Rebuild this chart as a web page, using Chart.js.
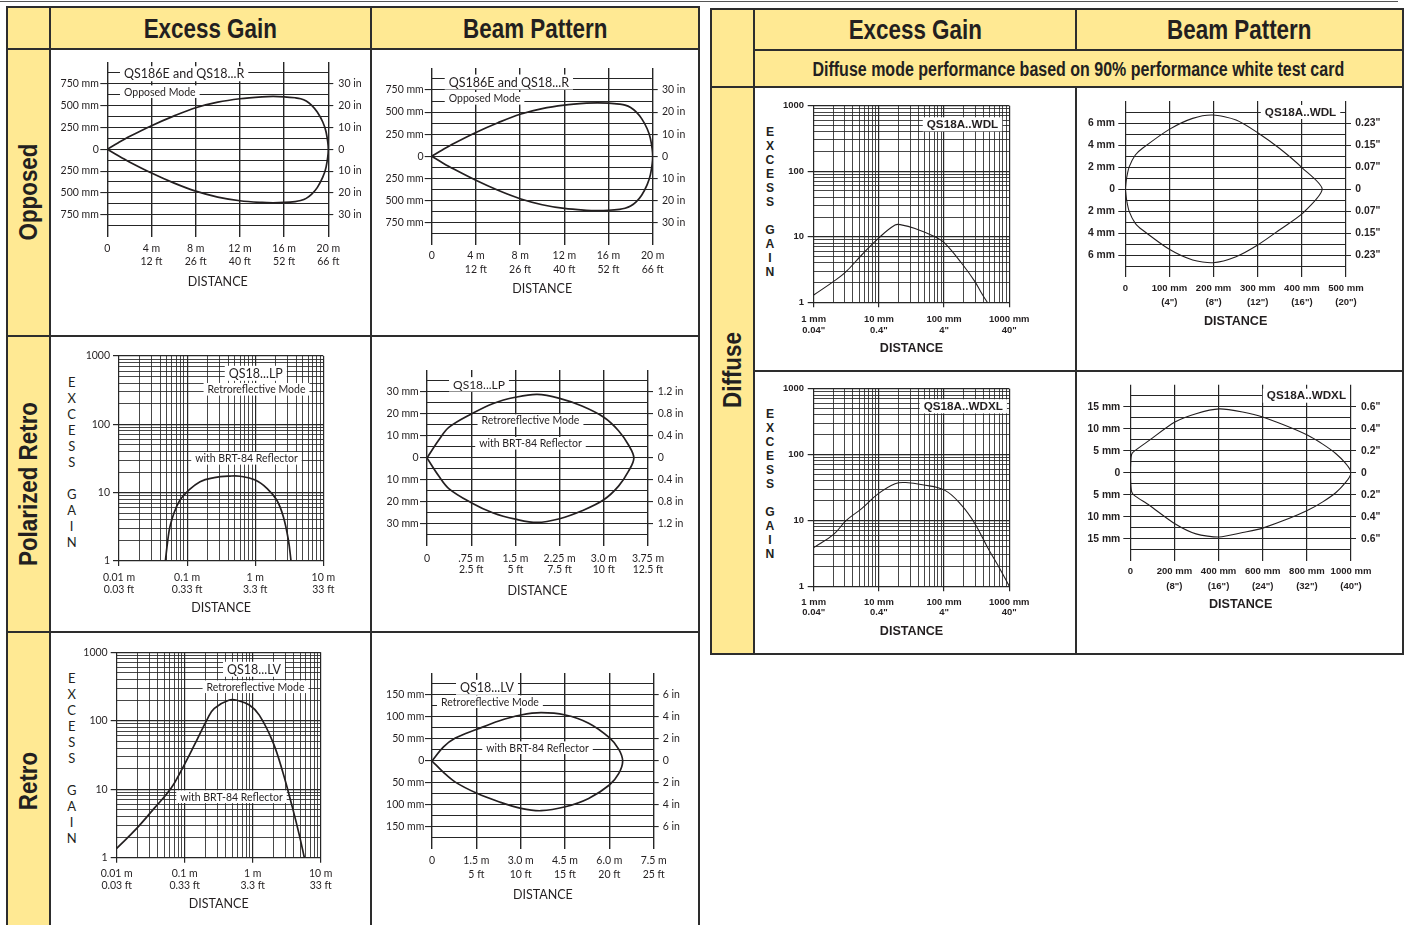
<!DOCTYPE html>
<html>
<head>
<meta charset="utf-8">
<title>QS18 excess gain and beam pattern</title>
<script src="https://cdn.jsdelivr.net/npm/chart.js@4.4.1/dist/chart.umd.min.js"></script>
<style>
  html, body { margin: 0; padding: 0; background: #fff; }
  body { position: relative; width: 1406px; height: 925px; overflow: hidden; color: #231f20; font-family: Lato, sans-serif; }
  .fill { position: absolute; background: #ffe993; }
  .ln { position: absolute; background: #2d2d2d; }
  .hd { position: absolute; display: flex; align-items: center; justify-content: center;
        font: bold 28px "Liberation Sans", Arial, sans-serif; white-space: nowrap; }
  .hd span { display: inline-block; transform: scaleX(0.8); }
  .hd.sub { font-size: 20px; }
  .side { position: absolute; font: bold 26px "Liberation Sans", Arial, sans-serif; white-space: nowrap;
          transform: translate(-50%, -50%) rotate(-90deg) scaleX(0.86); }
  .stack { position: absolute; width: 20px; margin-left: -10px; text-align: center; }
  canvas { position: absolute; }
</style>
</head>
<body>

<div class="hd" style="left:50px;top:8px;width:321px;height:41px"><span>Excess Gain</span></div>
<div class="hd" style="left:372px;top:8px;width:326px;height:41px"><span>Beam Pattern</span></div>
<div class="hd" style="left:754px;top:9px;width:322px;height:41px"><span>Excess Gain</span></div>
<div class="hd" style="left:1077px;top:9px;width:325px;height:41px"><span>Beam Pattern</span></div>
<div class="hd sub" style="left:754px;top:51px;width:648px;height:36px"><span>Diffuse mode performance based on 90% performance white test card</span></div>

<div class="side" style="left:28px;top:192px">Opposed</div>
<div class="side" style="left:28px;top:484px">Polarized Retro</div>
<div class="side" style="left:28px;top:781px">Retro</div>
<div class="side" style="left:732px;top:370px">Diffuse</div>

<script>
// ---------- data ----------

// Opposed mode, QS186E and QS18...R (distance m, width mm)
const oppDist  = [0, 1, 2, 4, 6, 8, 10, 12, 14, 15, 16, 17, 17.5, 18, 18.5, 19, 19.5, 19.8, 20];
const oppUpper = [0, 75, 145, 270, 380, 476, 540, 579, 601, 605, 601, 590, 579, 552, 503, 426, 312, 198, 0];
const oppLower = [0, -75, -145, -272, -385, -480, -548, -590, -610, -613, -610, -600, -588, -563, -515, -440, -320, -205, 0];
const oppXTicks  = [0, 4, 8, 12, 16, 20];
const oppXLabels = ['0', ['4 m', '12 ft'], ['8 m', '26 ft'], ['12 m', '40 ft'], ['16 m', '52 ft'], ['20 m', '66 ft']];
const oppYTicks  = [750, 500, 250, 0, -250, -500, -750];
const oppYLeft   = ['750 mm', '500 mm', '250 mm', '0', '250 mm', '500 mm', '750 mm'];
const oppYRight  = ['30 in', '20 in', '10 in', '0', '10 in', '20 in', '30 in'];

// Polarized retro QS18...LP excess gain (m)
const lpGainDist = [0.048, 0.052, 0.056, 0.065, 0.0787, 0.1, 0.155, 0.25, 0.427, 0.6, 1.0, 1.5, 2.07, 2.59, 3.07, 3.36];
const lpGain     = [1, 2, 3.18, 5.2, 7.8, 10.3, 14.5, 16.6, 17.5, 17.4, 15.3, 11.5, 7.8, 4.45, 2.03, 1];

// Polarized retro QS18...LP beam pattern (m, mm)
const lpDist  = [0, 0.2, 0.375, 0.75, 1.125, 1.5, 1.87, 2.25, 2.63, 3.0, 3.25, 3.42, 3.51];
const lpUpper = [0, 8.2, 14, 20, 24.8, 27.6, 28.9, 27.1, 23.6, 18.5, 12.4, 5.9, 0];
const lpLower = [0, -8.2, -14, -20.3, -25, -27.8, -29.3, -27.6, -24, -19, -12.8, -6, 0];
const lpXTicks  = [0, 0.75, 1.5, 2.25, 3.0, 3.75];
const lpXLabels = ['0', ['.75 m', '2.5 ft'], ['1.5 m', '5 ft'], ['2.25 m', '7.5 ft'], ['3.0 m', '10 ft'], ['3.75 m', '12.5 ft']];
const lpYTicks  = [30, 20, 10, 0, -10, -20, -30];
const lpYLeft   = ['30 mm', '20 mm', '10 mm', '0', '10 mm', '20 mm', '30 mm'];
const lpYRight  = ['1.2 in', '0.8 in', '0.4 in', '0', '0.4 in', '0.8 in', '1.2 in'];

// Retro QS18...LV excess gain (m)
const lvGainDist = [0.01, 0.0197, 0.0358, 0.063, 0.0925, 0.139, 0.218, 0.273, 0.454, 0.6, 0.894, 1.25, 1.97, 2.76, 3.87, 4.85, 5.75];
const lvGain     = [1.37, 2.68, 5.3, 10.3, 20.2, 44.3, 108.7, 152, 201, 198, 170, 121, 49.6, 18, 5.25, 2.14, 1];

// Retro QS18...LV beam pattern (m, mm)
const lvDist  = [0, 0.39, 0.79, 1.52, 2.26, 3.01, 3.69, 4.51, 5.3, 6.0, 6.32, 6.45];
const lvUpper = [0, 32, 52, 72, 91, 104.6, 110, 104.6, 86, 53, 26.5, 0];
const lvLower = [0, -26, -48, -73.5, -92.5, -107.6, -113, -104, -85, -54.6, -28, 0];
const lvXTicks  = [0, 1.5, 3, 4.5, 6, 7.5];
const lvXLabels = ['0', ['1.5 m', '5 ft'], ['3.0 m', '10 ft'], ['4.5 m', '15 ft'], ['6.0 m', '20 ft'], ['7.5 m', '25 ft']];
const lvYTicks  = [150, 100, 50, 0, -50, -100, -150];
const lvYLeft   = ['150 mm', '100 mm', '50 mm', '0', '50 mm', '100 mm', '150 mm'];
const lvYRight  = ['6 in', '4 in', '2 in', '0', '2 in', '4 in', '6 in'];

// shared log axes (retro charts in m, diffuse in mm)
const retroGainX       = [0.01, 0.1, 1, 10];
const retroGainXLabels = [['0.01 m', '0.03 ft'], ['0.1 m', '0.33 ft'], ['1 m', '3.3 ft'], ['10 m', '33 ft']];
const diffGainX        = [1, 10, 100, 1000];
const diffGainXLabels  = [['1 mm', '0.04"'], ['10 mm', '0.4"'], ['100 mm', '4"'], ['1000 mm', '40"']];
const gainYTicks  = [1, 10, 100, 1000];
const gainYLabels = ['1', '10', '100', '1000'];

// Diffuse QS18A..WDL (mm)
const wdlGainDist = [1, 2, 3.02, 5.44, 9.8, 17.7, 22, 35.8, 72.4, 103, 186, 297, 376, 459];
const wdlGain     = [1.29, 2.07, 2.83, 5.27, 9.46, 15.1, 15.2, 13.4, 10, 7.94, 3.94, 2.07, 1.37, 1];
const wdlDist  = [0, 3, 9, 22.7, 39, 99.7, 152.6, 198, 251, 300, 349, 402, 446];
const wdlUpper = [0, 1, 2.03, 3.09, 3.7, 5.42, 6.42, 6.73, 6.27, 5.12, 3.7, 1.88, 0];
const wdlLower = [0, -1, -2.06, -3.12, -3.73, -5.48, -6.45, -6.7, -6.15, -5.09, -3.73, -2.2, 0];
const wdlXTicks  = [0, 100, 200, 300, 400, 500];
const wdlXLabels = ['0', ['100 mm', '(4")'], ['200 mm', '(8")'], ['300 mm', '(12")'], ['400 mm', '(16")'], ['500 mm', '(20")']];
const wdlYTicks  = [6, 4, 2, 0, -2, -4, -6];
const wdlYLeft   = ['6 mm', '4 mm', '2 mm', '0', '2 mm', '4 mm', '6 mm'];
const wdlYRight  = ['0.23"', '0.15"', '0.07"', '0', '0.07"', '0.15"', '0.23"'];

// Diffuse QS18A..WDXL (mm)
const wdxlGainDist = [1, 2, 3.16, 5.44, 9.8, 17.7, 25.7, 46.5, 103, 186, 297, 476, 716, 1000];
const wdxlGain     = [3.86, 6.08, 10, 15.1, 25.5, 36.1, 37.6, 34.9, 28.6, 16.9, 8.93, 3.73, 1.85, 1];
const wdxlDist  = [0, 2, 6, 18, 86, 202, 297.6, 403, 509, 600, 804, 932, 1000];
const wdxlUpper = [0, 2.5, 4.2, 4.9, 7.35, 11.5, 13.4, 14.5, 13.8, 12.65, 8.5, 4.3, 0];
const wdxlLower = [0, -2.5, -4.3, -5.15, -7.4, -11.6, -13.9, -14.6, -13.6, -12.6, -8.56, -4.5, 0];
const wdxlXTicks  = [0, 200, 400, 600, 800, 1000];
const wdxlXLabels = ['0', ['200 mm', '(8")'], ['400 mm', '(16")'], ['600 mm', '(24")'], ['800 mm', '(32")'], ['1000 mm', '(40")']];
const wdxlYTicks  = [15, 10, 5, 0, -5, -10, -15];
const wdxlYLeft   = ['15 mm', '10 mm', '5 mm', '0', '5 mm', '10 mm', '15 mm'];
const wdxlYRight  = ['0.6"', '0.4"', '0.2"', '0', '0.2"', '0.4"', '0.6"'];

// ---------- helpers ----------
const INK = '#231f20';
const GRID = '#262626';
const CLEAR = 'rgba(0,0,0,0)';

function hasFont(name) {
  const c = document.createElement('canvas').getContext('2d');
  const s = 'mmmwwwiii0123456789QS18A';
  c.font = '40px monospace';
  const a = c.measureText(s).width;
  c.font = '40px "' + name + '", monospace';
  return Math.abs(c.measureText(s).width - a) > 0.5;
}
const NF = hasFont('Liberation Sans Narrow')
  ? { family: '"Liberation Sans Narrow", sans-serif', k: 1 }
  : { family: '"Liberation Sans", Arial, sans-serif', k: 0.9 };
const nf = size => ({ family: NF.family, size: +(size * NF.k).toFixed(2), weight: 'bold' });
const lato = size => ({ family: 'Lato, sans-serif', size: size });

function line(x, y, w, h, col) {
  const d = document.createElement('div');
  d.className = 'ln';
  d.style.cssText = `left:${x}px;top:${y}px;width:${w}px;height:${h}px` + (col ? `;background:${col}` : '');
  document.body.appendChild(d);
}
const H = (x1, x2, y, w = 2, col) => line(x1, y - w / 2, x2 - x1, w, col);
const V = (x, y1, y2, w = 2) => line(x - w / 2, y1, w, y2 - y1);
function fill(x, y, w, h) {
  const d = document.createElement('div');
  d.className = 'fill';
  d.style.cssText = `left:${x}px;top:${y}px;width:${w}px;height:${h}px`;
  document.body.insertBefore(d, document.body.firstChild);
}
function stack(x, y, step, font) {
  const d = document.createElement('div');
  d.className = 'stack';
  d.style.cssText = `left:${x}px;top:${y - step / 2}px;line-height:${step}px;font:${font}`;
  d.innerHTML = 'EXCESS GAIN'.split('').map(ch => ch === ' ' ? '&nbsp;' : ch).join('<br>');
  document.body.appendChild(d);
}

function gridRange(lim, step) {
  const a = [];
  for (let v = -lim; v <= lim + 1e-9; v += step) a.push(+v.toFixed(4));
  return a;
}
function logGrid(lo, hi) {
  const a = [];
  for (let d = lo; d < hi * 0.999; d *= 10)
    for (let k = 1; k <= 9; k++) a.push(+(k * d).toPrecision(3));
  a.push(hi);
  return a;
}
const near = (a, b) => Math.abs(a - b) <= 1e-6 * Math.max(1, Math.abs(b));
const lookup = (vals, labels, v) => { const i = vals.findIndex(t => near(t, v)); return i < 0 ? '' : labels[i]; };
const isDecade = v => Math.abs(Math.log10(v) - Math.round(Math.log10(v))) < 1e-6;

function addCanvas(id, cell) {
  const cv = document.createElement('canvas');
  cv.id = id;
  cv.width = cell.r - cell.l;
  cv.height = cell.b - cell.t;
  cv.style.left = cell.l + 'px';
  cv.style.top = cell.t + 'px';
  cv.style.width = cv.width + 'px';
  cv.style.height = cv.height + 'px';
  document.body.appendChild(cv);
  return cv;
}

function notePlugin(notes) {
  return {
    id: 'notes',
    beforeDatasetsDraw(chart) {
      const ctx = chart.ctx, sx = chart.scales.x, sy = chart.scales.y;
      notes.forEach(n => {
        ctx.save();
        ctx.font = `${n.font.weight || 'normal'} ${n.font.size}px ${n.font.family}`;
        const w = ctx.measureText(n.text).width;
        const cx = sx.getPixelForValue(n.x), cy = sy.getPixelForValue(n.y);
        const x0 = n.align === 'left' ? cx : cx - w / 2;
        ctx.fillStyle = '#fff';
        ctx.fillRect(x0 - 4, cy - n.font.size * 0.6, w + 8, n.font.size * 1.2);
        ctx.fillStyle = INK;
        ctx.textAlign = 'left';
        ctx.textBaseline = 'middle';
        ctx.fillText(n.text, x0, cy + 0.5);
        ctx.restore();
      });
    }
  };
}

const baseOptions = (cell, plot, hB, padRight) => ({
  responsive: false,
  animation: false,
  events: [],
  layout: { padding: { left: 0, right: padRight, top: plot.t - cell.t, bottom: cell.b - plot.b - hB } },
  plugins: { legend: { display: false }, tooltip: { enabled: false } }
});

// closed beam outline: upper edge out, lower edge back
function beamChart(id, cell, plot, s) {
  const cv = addCanvas(id, cell);
  const pts = s.dist.map((d, i) => ({ x: d, y: s.upper[i] }));
  for (let i = s.dist.length - 2; i >= 0; i--) pts.push({ x: s.dist[i], y: s.lower[i] });
  const yGrid = gridRange(s.gridLim, s.step);
  const marked = v => s.yVals.some(t => near(t, v));
  const tickCol = c => (c.tick && marked(c.tick.value)) ? GRID : CLEAR;
  const setY = sc => { sc.ticks = yGrid.map(v => ({ value: v })); };
  const opts = baseOptions(cell, plot, s.hB, 0);
  opts.scales = {
    x: {
      type: 'linear', min: 0, max: s.xTicks[s.xTicks.length - 1],
      afterBuildTicks: sc => { sc.ticks = s.xTicks.map(v => ({ value: v })); },
      afterFit: sc => { sc.height = s.hB; },
      grid: { color: GRID, lineWidth: s.vgw, drawTicks: false },
      border: { display: false },
      ticks: { autoSkip: false, maxRotation: 0, padding: s.xPad, color: INK,
               font: Object.assign({}, s.xFont, { lineHeight: s.lh / s.xFont.size }),
               callback: v => lookup(s.xTicks, s.xLabels, v) },
      title: { display: true, text: 'DISTANCE', color: INK, padding: 0, font: s.titleFont }
    },
    y: {
      type: 'linear', min: -s.yMax, max: s.yMax,
      afterBuildTicks: setY,
      afterFit: sc => { sc.width = plot.l - cell.l; },
      grid: { color: GRID, lineWidth: s.hgw, tickLength: s.yTick, tickColor: tickCol },
      border: { display: false },
      ticks: { autoSkip: false, padding: s.yPad, color: INK, font: s.yFont,
               callback: v => lookup(s.yVals, s.yLeft, v) }
    },
    y2: {
      type: 'linear', position: 'right', min: -s.yMax, max: s.yMax,
      afterBuildTicks: setY,
      afterFit: sc => { sc.width = cell.r - plot.r; },
      grid: { drawOnChartArea: false, color: GRID, lineWidth: s.hgw, tickLength: s.y2Tick, tickColor: tickCol },
      border: { display: false },
      ticks: { autoSkip: false, padding: s.y2Pad, color: INK, font: s.yFont,
               callback: v => lookup(s.yVals, s.yRight, v) }
    }
  };
  new Chart(cv, {
    type: 'scatter',
    data: { datasets: [{ data: pts, showLine: true, borderColor: INK, borderWidth: s.lw,
                         pointRadius: 0, tension: s.tension, fill: false }] },
    options: opts,
    plugins: [notePlugin(s.notes)]
  });
}

// excess gain vs distance, log-log
function gainChart(id, cell, plot, s) {
  const cv = addCanvas(id, cell);
  const pts = s.dist.map((d, i) => ({ x: d, y: s.gain[i] }));
  const xMin = s.xTicks[0], xMax = s.xTicks[s.xTicks.length - 1];
  const gw = c => (c.tick && isDecade(c.tick.value)) ? 1.2 : 0.85;
  const tc = c => (c.tick && isDecade(c.tick.value)) ? GRID : CLEAR;
  const opts = baseOptions(cell, plot, s.hB, cell.r - plot.r);
  opts.scales = {
    x: {
      type: 'logarithmic', min: xMin, max: xMax,
      afterBuildTicks: sc => { sc.ticks = logGrid(xMin, xMax).map(v => ({ value: v })); },
      afterFit: sc => { sc.height = s.hB; },
      grid: { color: GRID, lineWidth: gw, tickLength: 5, tickColor: tc },
      border: { display: false },
      ticks: { autoSkip: false, maxRotation: 0, padding: s.xPad, color: INK,
               font: Object.assign({}, s.xFont, { lineHeight: s.lh / s.xFont.size }),
               callback: v => lookup(s.xTicks, s.xLabels, v) },
      title: { display: true, text: 'DISTANCE', color: INK, padding: 0, font: s.titleFont }
    },
    y: {
      type: 'logarithmic', min: 1, max: 1000,
      afterBuildTicks: sc => { sc.ticks = logGrid(1, 1000).map(v => ({ value: v })); },
      afterFit: sc => { sc.width = plot.l - cell.l; },
      grid: { color: GRID, lineWidth: gw, tickLength: s.yTick, tickColor: tc },
      border: { display: false },
      ticks: { autoSkip: false, padding: s.yPad, color: INK, font: s.yFont,
               callback: v => lookup(gainYTicks, gainYLabels, v) }
    }
  };
  new Chart(cv, {
    type: 'scatter',
    data: { datasets: [{ data: pts, showLine: true, borderColor: INK, borderWidth: s.lw,
                         pointRadius: 0, tension: 0.4, fill: false }] },
    options: opts,
    plugins: [notePlugin(s.notes)]
  });
}

// ---------- table frame ----------
fill(7, 7, 692, 42);
fill(7, 49, 42, 890);
fill(711, 8, 692, 79);
fill(711, 87, 42, 567);

H(0, 1398, 1.5, 1.5, '#555');
// left table
H(6, 700, 7); H(6, 700, 49); H(6, 700, 336); H(6, 700, 632);
V(7, 6, 935); V(49.5, 6, 935); V(371, 6, 935); V(698.5, 6, 935);
// right table
H(710, 1404, 8.5); H(753, 1404, 50); H(710, 1404, 87); H(753, 1404, 370.5); H(710, 1404, 653.5);
V(711, 8, 654.5); V(753.5, 8, 654.5); V(1076, 8, 50); V(1076, 87, 654); V(1402.5, 8, 654.5);

stack(71.7, 381.5, 16, '13px Lato, sans-serif');
stack(71.7, 678, 16, '13px Lato, sans-serif');
stack(770, 132.3, 15.2, `bold ${nf(13.5).size}px ${NF.family}`);
stack(770, 414.7, 15.2, `bold ${nf(13.5).size}px ${NF.family}`);

// ---------- charts ----------
const leftBeam = { xFont: lato(10.5), yFont: lato(10.5), titleFont: lato(12.5), lw: 1.7, hgw: 1.1, vgw: 1.4, tension: 0.35 };
const diffBeam = { xFont: nf(10.6), yFont: nf(11.5), titleFont: nf(14), lw: 1.1, hgw: 1, vgw: 1.2, tension: 0.3 };

beamChart('oppGain', { l: 51, t: 50, r: 370, b: 335 }, { l: 107.3, t: 62, r: 328.3, b: 236.5 },
  Object.assign({}, leftBeam, {
    dist: oppDist, upper: oppUpper, lower: oppLower, xTicks: oppXTicks, xLabels: oppXLabels,
    yVals: oppYTicks, yLeft: oppYLeft, yRight: oppYRight, yMax: 1000, gridLim: 875, step: 125,
    lh: 12.7, xPad: 6.1, hB: 53.3, yTick: 7, yPad: 1.5, y2Tick: 5, y2Pad: 5,
    notes: [{ text: 'QS186E and QS18...R', x: 1.51, y: 865, font: lato(12.5), align: 'left' },
            { text: 'Opposed Mode', x: 1.51, y: 660, font: lato(10.5), align: 'left' }]
  }));

beamChart('oppBeam', { l: 373, t: 50, r: 697, b: 335 }, { l: 431.7, t: 67.9, r: 652.7, b: 244.7 },
  Object.assign({}, leftBeam, {
    dist: oppDist, upper: oppUpper, lower: oppLower, xTicks: oppXTicks, xLabels: oppXLabels,
    yVals: oppYTicks, yLeft: oppYLeft, yRight: oppYRight, yMax: 1000, gridLim: 875, step: 125,
    lh: 14.3, xPad: 3.9, hB: 52.1, yTick: 7, yPad: 1, y2Tick: 5, y2Pad: 4.3,
    notes: [{ text: 'QS186E and QS18...R', x: 1.54, y: 840, font: lato(12.5), align: 'left' },
            { text: 'Opposed Mode', x: 1.54, y: 656, font: lato(10.5), align: 'left' }]
  }));

gainChart('lpGain', { l: 51, t: 337, r: 370, b: 631 }, { l: 119, t: 356, r: 323.3, b: 561 }, {
  dist: lpGainDist, gain: lpGain, xTicks: retroGainX, xLabels: retroGainXLabels,
  xFont: lato(10.5), yFont: lato(10.5), titleFont: lato(12.5), lw: 1.7,
  lh: 12.7, xPad: 5, hB: 54.2, yTick: 6, yPad: 3,
  notes: [{ text: 'QS18...LP', x: 1.02, y: 558, font: lato(12.5) },
          { text: 'Retroreflective Mode', x: 1.045, y: 326, font: lato(10.5) },
          { text: 'with BRT-84 Reflector', x: 0.745, y: 31.8, font: lato(10.5) }]
});

beamChart('lpBeam', { l: 373, t: 337, r: 697, b: 631 }, { l: 427, t: 370, r: 648, b: 546 },
  Object.assign({}, leftBeam, {
    dist: lpDist, upper: lpUpper, lower: lpLower, xTicks: lpXTicks, xLabels: lpXLabels,
    yVals: lpYTicks, yLeft: lpYLeft, yRight: lpYRight, yMax: 40, gridLim: 35, step: 5,
    lh: 11.7, xPad: 6.4, hB: 52.2, yTick: 7, yPad: 1.3, y2Tick: 5, y2Pad: 4.7,
    notes: [{ text: 'QS18...LP', x: 0.882, y: 33.5, font: lato(12) },
            { text: 'Retroreflective Mode', x: 1.756, y: 17, font: lato(10.5) },
            { text: 'with BRT-84 Reflector', x: 1.756, y: 6.7, font: lato(10.5) }]
  }));

gainChart('lvGain', { l: 51, t: 633, r: 370, b: 925 }, { l: 116.7, t: 652.3, r: 320.7, b: 857.7 }, {
  dist: lvGainDist, gain: lvGain, xTicks: retroGainX, xLabels: retroGainXLabels,
  xFont: lato(10.5), yFont: lato(10.5), titleFont: lato(12.5), lw: 1.7,
  lh: 11.7, xPad: 5.4, hB: 54.1, yTick: 6, yPad: 3,
  notes: [{ text: 'QS18...LV', x: 1.045, y: 565, font: lato(12.5) },
          { text: 'Retroreflective Mode', x: 1.1, y: 314, font: lato(10.5) },
          { text: 'with BRT-84 Reflector', x: 0.488, y: 7.78, font: lato(10.5) }]
});

beamChart('lvBeam', { l: 373, t: 633, r: 697, b: 925 }, { l: 432, t: 673, r: 653.7, b: 849 },
  Object.assign({}, leftBeam, {
    dist: lvDist, upper: lvUpper, lower: lvLower, xTicks: lvXTicks, xLabels: lvXLabels,
    yVals: lvYTicks, yLeft: lvYLeft, yRight: lvYRight, yMax: 200, gridLim: 175, step: 25,
    lh: 13.6, xPad: 4.9, hB: 53.5, yTick: 7, yPad: 0.7, y2Tick: 5, y2Pad: 4,
    notes: [{ text: 'QS18...LV', x: 1.86, y: 167.5, font: lato(12.5) },
            { text: 'Retroreflective Mode', x: 1.96, y: 134.8, font: lato(10.5) },
            { text: 'with BRT-84 Reflector', x: 3.57, y: 30.2, font: lato(10.5) }]
  }));

gainChart('wdlGain', { l: 755, t: 88, r: 1075, b: 369 }, { l: 813.7, t: 105.7, r: 1009.3, b: 302.3 }, {
  dist: wdlGainDist, gain: wdlGain, xTicks: diffGainX, xLabels: diffGainXLabels,
  xFont: nf(10.5), yFont: nf(10.5), titleFont: nf(14), lw: 1.1,
  lh: 10.7, xPad: 6.6, hB: 53.8, yTick: 6, yPad: 3.7,
  notes: [{ text: 'QS18A..WDL', x: 191.5, y: 520, font: nf(13) }]
});

beamChart('wdlBeam', { l: 1077, t: 88, r: 1401, b: 369 }, { l: 1125.3, t: 101, r: 1346, b: 277 },
  Object.assign({}, diffBeam, {
    dist: wdlDist, upper: wdlUpper, lower: wdlLower, xTicks: wdlXTicks, xLabels: wdlXLabels,
    yVals: wdlYTicks, yLeft: wdlYLeft, yRight: wdlYRight, yMax: 8, gridLim: 7, step: 1,
    lh: 14, xPad: 4.3, hB: 52.5, yTick: 7, yPad: 3.3, y2Tick: 5, y2Pad: 4.3, tension: 0.25,
    notes: [{ text: 'QS18A..WDL', x: 397, y: 7, font: nf(13) }]
  }));

gainChart('wdxlGain', { l: 755, t: 372, r: 1075, b: 652 }, { l: 813.7, t: 388.7, r: 1009.3, b: 586.3 }, {
  dist: wdxlGainDist, gain: wdxlGain, xTicks: diffGainX, xLabels: diffGainXLabels,
  xFont: nf(10.5), yFont: nf(10.5), titleFont: nf(14), lw: 1.1,
  lh: 10.7, xPad: 5.3, hB: 52.8, yTick: 6, yPad: 3.7,
  notes: [{ text: 'QS18A..WDXL', x: 197, y: 540, font: nf(13) }]
});

beamChart('wdxlBeam', { l: 1077, t: 372, r: 1401, b: 652 }, { l: 1130.3, t: 384.7, r: 1351, b: 560.7 },
  Object.assign({}, diffBeam, {
    dist: wdxlDist, upper: wdxlUpper, lower: wdxlLower, xTicks: wdxlXTicks, xLabels: wdxlXLabels,
    yVals: wdxlYTicks, yLeft: wdxlYLeft, yRight: wdxlYRight, yMax: 20, gridLim: 17.5, step: 2.5,
    lh: 14.7, xPad: 3.2, hB: 51.4, yTick: 7, yPad: 3, y2Tick: 5, y2Pad: 5, tension: 0.25,
    notes: [{ text: 'QS18A..WDXL', x: 798, y: 17.5, font: nf(13) }]
  }));
</script>
</body>
</html>
